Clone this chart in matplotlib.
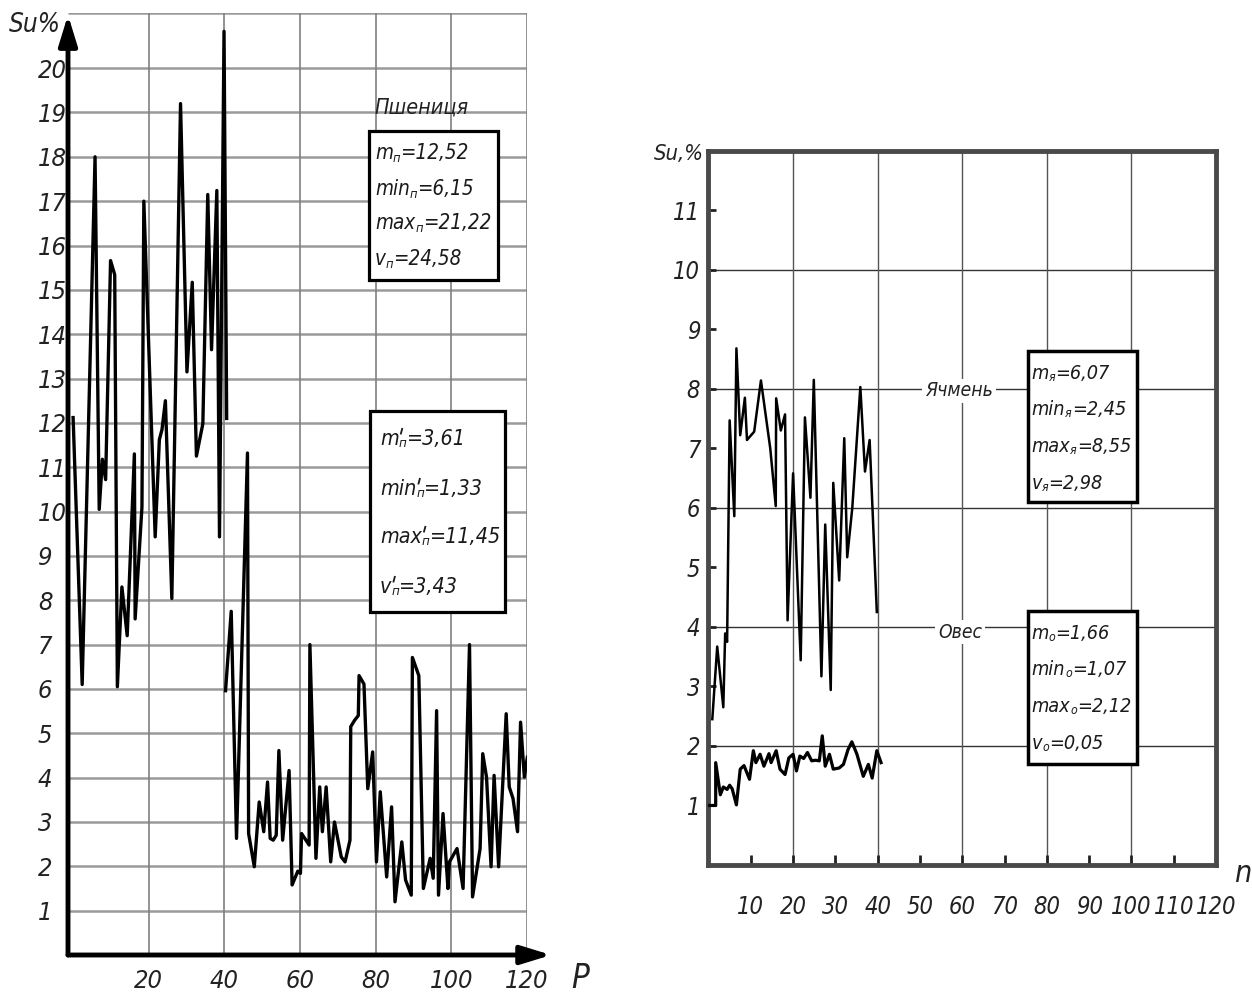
import os
import matplotlib
matplotlib.use('Agg')
import matplotlib.pyplot as plt
from matplotlib import font_manager as fm
from matplotlib.patches import Rectangle
from matplotlib.lines import Line2D
from matplotlib.textpath import TextPath

# ---- data ----
# wheat (left panel), drawn in two pieces: the line breaks near P=40
wheat1_x = [0.0, 2.4, 5.8, 6.9, 7.75, 8.6, 9.9, 11.0, 11.7, 12.9, 14.3, 16.2, 16.4,
            18.2, 18.7, 21.7, 22.8, 23.5, 24.4, 26.1, 28.4, 30.1, 31.5, 32.6, 34.3,
            35.6, 36.6, 38.0, 38.7, 39.9, 40.6]
wheat1_y = [12.12, 6.1, 18.0, 10.05, 11.18, 10.72, 15.66, 15.34, 6.05, 8.3, 7.2, 11.3, 7.58,
            10.1, 17.0, 9.43, 11.62, 11.85, 12.5, 8.04, 19.2, 13.15, 15.17, 11.25, 11.98,
            17.15, 13.65, 17.24, 9.43, 20.83, 12.1]
wheat2_x = [40.3, 41.8, 43.2, 46.1, 46.4, 47.9, 49.2, 50.4, 51.4, 52.1, 52.9, 53.7, 54.4,
            55.4, 57.1, 57.9, 59.4, 60.1, 60.4, 62.4, 62.6, 64.2, 65.2, 65.9, 66.9, 68.1,
            69.1, 70.9, 71.9, 73.2, 73.4, 74.4, 75.4, 75.6, 76.9, 77.9, 79.2, 80.2, 81.2,
            82.9, 84.2, 85.1, 86.9, 87.9, 89.4, 89.7, 91.4, 92.6, 94.4, 95.2, 96.1, 96.6,
            97.8, 99.1, 99.5, 101.5, 103.1, 104.8, 105.6, 107.6, 108.3, 109.3, 110.5,
            111.3, 112.5, 114.5, 115.3, 116.3, 117.5, 118.3, 119.3, 120.1]
wheat2_y = [5.96, 7.75, 2.63, 11.32, 2.74, 1.99, 3.45, 2.78, 3.9, 2.63, 2.59, 2.7, 4.61,
            2.59, 4.16, 1.58, 1.89, 1.84, 2.74, 2.48, 7.0, 2.18, 3.79, 2.78, 3.79, 2.1,
            3.0, 2.21, 2.1, 2.59, 5.15, 5.29, 5.4, 6.3, 6.11, 3.75, 4.58, 2.1, 3.68,
            1.76, 3.34, 1.2, 2.55, 1.69, 1.35, 6.71, 6.3, 1.5, 2.18, 1.73, 5.51, 1.35,
            3.19, 1.5, 2.1, 2.4, 1.5, 7.0, 1.31, 2.4, 4.54, 4.01, 1.99,
            4.05, 1.99, 5.44, 3.79, 3.53, 2.78, 5.25, 4.01, 4.46]

# barley (right panel)
barley_x = [0.9, 2.06, 3.5, 3.94, 4.4, 5.0, 6.1, 6.6, 7.5, 8.6, 9.1, 10.8, 12.4, 14.6,
            15.9, 16.0, 17.1, 18.1, 18.7, 20.0, 21.8, 22.8, 24.1, 24.9, 26.7, 27.6,
            28.9, 29.5, 30.9, 32.1, 32.8, 34.0, 35.9, 37.0, 38.1, 39.8]
barley_y = [2.45, 3.67, 2.65, 3.89, 3.75, 7.47, 5.86, 8.68, 7.22, 7.85, 7.14, 7.28, 8.14, 7.0,
            6.03, 7.84, 7.3, 7.57, 4.11, 6.58, 3.44, 7.52, 6.17, 8.15, 3.17, 5.72,
            2.94, 6.42, 4.78, 7.17, 5.17, 6.0, 8.03, 6.61, 7.14, 4.25]

# oats (right panel)
oats_x = [0.3, 1.7, 1.7, 2.8, 3.5, 4.4, 5.0, 5.6, 6.6, 7.5, 8.4, 9.7, 10.6, 11.2, 12.2,
          13.1, 14.3, 14.8, 16.0, 16.9, 18.1, 19.0, 20.0, 20.8, 21.6, 22.5, 23.4, 24.4,
          25.3, 26.2, 26.9, 27.6, 28.6, 29.5, 30.9, 31.9, 33.0, 33.9, 35.1, 36.6, 37.8,
          38.7, 39.8, 40.8]
oats_y = [1.0, 1.0, 1.72, 1.18, 1.31, 1.27, 1.34, 1.28, 1.01, 1.61, 1.67, 1.44, 1.92, 1.72,
          1.86, 1.66, 1.87, 1.72, 1.92, 1.61, 1.52, 1.8, 1.86, 1.58, 1.83, 1.79, 1.89, 1.75,
          1.76, 1.75, 2.17, 1.66, 1.86, 1.61, 1.63, 1.69, 1.94, 2.07, 1.86, 1.49, 1.69,
          1.46, 1.92, 1.72]

left_yticks = list(range(1, 21))
left_xticks = [20, 40, 60, 80, 100, 120]
right_yticks = list(range(1, 12))
right_xticks = list(range(10, 121, 10))

wheat_stats = [("m", "п", "=12,52"), ("min", "п", "=6,15"),
               ("max", "п", "=21,22"), ("v", "п", "=24,58")]
wheat_stats2 = [("m", "п", "=3,61"), ("min", "п", "=1,33"),
                ("max", "п", "=11,45"), ("v", "п", "=3,43")]
barley_stats = [("m", "я", "=6,07"), ("min", "я", "=2,45"),
                ("max", "я", "=8,55"), ("v", "я", "=2,98")]
oats_stats = [("m", "о", "=1,66"), ("min", "о", "=1,07"),
              ("max", "о", "=2,12"), ("v", "о", "=0,05")]

# ---- font: something narrow and italic, like the drafting font ----
files = {os.path.basename(f.fname): f.fname for f in fm.fontManager.ttflist}
FONT = None
for name in ['NotoSans-ExtraCondensedLightItalic.ttf', 'NotoSans-CondensedLightItalic.ttf',
             'LiberationSansNarrow-Italic.ttf', 'DejaVuSansCondensed-Oblique.ttf']:
    if name in files:
        FONT = files[name]
        break


def F(size):
    if FONT:
        return fm.FontProperties(fname=FONT, size=size)
    return fm.FontProperties(family='DejaVu Sans', style='italic', size=size)


W, H, DPI = 1252, 1000, 100
SUB = 0.62

fig = plt.figure(figsize=(W / DPI, H / DPI), dpi=DPI)
renderer = fig.canvas.get_renderer()
INK = '#222222'


def text_w(s, size):
    t = fig.text(0, 0, s, fontproperties=F(size))
    w = t.get_window_extent(renderer).width
    t.remove()
    return w


def fit(ws, w=None, hs='0', h=None):
    # point size giving the wanted width / ink height (px) in this font
    out = []
    if w:
        out.append(100 * w / text_w(ws, 100))
    if h:
        e = TextPath((0, 0), hs, size=100, prop=F(100)).get_extents()
        out.append(h / (e.height / 100) * 72 / DPI)
    return min(out)


def fit_line(parts, w, h):
    head, sub, tail = parts
    w100 = text_w(head, 100) + text_w(sub, 100 * SUB) + text_w(tail, 100)
    return min(100 * w / w100, fit("0", None, "2", h))


S_TICK_L = fit("20", 29, "20", 23)
S_SU = fit("Su%", 52, "S", 21)
S_P = fit("P", None, "P", 24)
S_WHEAT = fit("Пшениця", 94)
S_BOX_L = fit_line(wheat_stats[2], 116, 23)
S_BOX_L2 = fit_line(wheat_stats2[2], 121, 22)
S_TICK_R = fit("20", 27, "20", 21)
S_SU_R = fit("Su,%", 50, "S", 22)
S_N = fit("n", None, "n", 17)
S_BARLEY = fit("Ячмень", 68)
S_OATS = fit("Овес", 44)
S_BOX_R = min(fit_line(barley_stats[2], 101, 22), fit_line(oats_stats[2], 100, 22))


def P(x, y):
    return x / W, 1 - y / H


# ================= left panel =================
axL = fig.add_axes([68 / W, 1 - 955 / H, (527 - 68) / W, (955 - 12.7) / H])
x0L, topL = -1.35, 21.25
axL.set_xlim(x0L, 120)
axL.set_ylim(0, topL)
for s in axL.spines.values():
    s.set_visible(False)

axL.hlines(left_yticks + [topL], x0L, 120, color='#9a9a9a', lw=1.8, zorder=1)
axL.vlines(left_xticks, 0, topL, color='#808080', lw=1.2, zorder=1)

axL.plot(wheat1_x, wheat1_y, color='black', lw=2.4, zorder=3)
axL.plot(wheat2_x, wheat2_y, color='black', lw=2.4, zorder=3)

arrow = dict(arrowstyle='-|>,head_length=1.3,head_width=0.4', lw=3.5, color='black',
             shrinkA=0, shrinkB=0, mutation_scale=14)
axL.annotate('', xy=(126.4, 0), xytext=(x0L, 0), arrowprops=arrow, annotation_clip=False, zorder=4)
axL.annotate('', xy=(x0L, 21.2), xytext=(x0L, 0), arrowprops=arrow, annotation_clip=False, zorder=4)

axL.set_yticks(left_yticks)
axL.set_yticklabels([str(v) for v in left_yticks])
axL.set_xticks(left_xticks)
axL.set_xticklabels([str(v) for v in left_xticks])
axL.tick_params(axis='y', length=0, pad=21.6)
axL.tick_params(axis='x', length=0, pad=19)
for lab in axL.get_yticklabels():
    lab.set_fontproperties(F(S_TICK_L))
    lab.set_ha('left')
    lab.set_color(INK)
for lab in axL.get_xticklabels():
    lab.set_fontproperties(F(S_TICK_L))
    lab.set_va('center')
    lab.set_color(INK)

fig.text(*P(9, 25), "Su%", fontproperties=F(S_SU), va='center', ha='left', color=INK)
fig.text(*P(580, 978), "P", fontproperties=F(S_P), va='center', ha='center', color=INK)
fig.text(*P(422, 108), "Пшениця", fontproperties=F(S_WHEAT), va='center', ha='center', color=INK)

# ================= right panel =================
axR = fig.add_axes([708.5 / W, 1 - 865 / H, (1216 - 708.5) / W, (865 - 150.7) / H])
axR.set_xlim(0, 120)
axR.set_ylim(0, 12)
for s in axR.spines.values():
    s.set_color('#4a4a4a')
    s.set_linewidth(3.5)
axR.hlines([2, 4, 6, 8, 10], 0, 120, color='#333333', lw=1.0, zorder=1)
axR.vlines([20, 40, 60, 80, 100], 0, 12, color='#555555', lw=1.0, zorder=1)

axR.plot(barley_x, barley_y, color='black', lw=1.8, zorder=3)
axR.plot(oats_x, oats_y, color='black', lw=2.3, zorder=3)

axR.set_xticks(right_xticks)
axR.set_xticklabels([str(v) for v in right_xticks])
axR.set_yticks(right_yticks)
axR.set_yticklabels([str(v) for v in right_yticks])
axR.tick_params(axis='x', direction='in', length=7, width=2, color=INK, pad=30)
axR.tick_params(axis='y', direction='in', length=6, width=2, color=INK, pad=6)
for lab in axR.get_xticklabels():
    lab.set_fontproperties(F(S_TICK_R))
    lab.set_va('center')
    lab.set_color(INK)
for lab in axR.get_yticklabels():
    lab.set_fontproperties(F(S_TICK_R))
    lab.set_color(INK)

fig.text(*P(679, 154), "Su,%", fontproperties=F(S_SU_R), va='center', ha='center', color=INK)
fig.text(*P(1243, 873), "n", fontproperties=F(S_N), va='center', ha='center', color=INK)

lab_box = dict(boxstyle='square,pad=0.15', fc='white', ec='none')
fig.text(*P(959, 391), "Ячмень", fontproperties=F(S_BARLEY), va='center', ha='center',
         color=INK, bbox=lab_box, zorder=5)
fig.text(*P(960, 632), "Овес", fontproperties=F(S_OATS), va='center', ha='center',
         color=INK, bbox=lab_box, zorder=5)


# ================= statistic boxes =================
def frame(x0, y0, x1, y1, lw=2.3):
    fig.add_artist(Rectangle(P(x0, y1), (x1 - x0) / W, (y1 - y0) / H, transform=fig.transFigure,
                             fc='white', ec='black', lw=lw, zorder=4))


def stat_line(x, y_mid, parts, size, prime=False):
    head, sub, tail = parts
    em = size * DPI / 72
    base = y_mid + 0.36 * em
    kw = dict(va='baseline', ha='left', color='#1a1a1a', zorder=6)
    t = fig.text(*P(x, base), head, fontproperties=F(size), **kw)
    xs = x + t.get_window_extent(renderer).width
    s = fig.text(*P(xs, base + 0.12 * em), sub, fontproperties=F(size * SUB), **kw)
    ws = s.get_window_extent(renderer).width
    if prime:
        # the prime mark, drawn as a short slanted stroke
        fig.add_artist(Line2D([P(xs + 0.16 * em, 0)[0], P(xs + 0.10 * em, 0)[0]],
                              [P(0, base - 0.74 * em)[1], P(0, base - 0.52 * em)[1]],
                              transform=fig.transFigure, color='#1a1a1a', lw=1.3, zorder=6))
    fig.text(*P(xs + ws, base), tail, fontproperties=F(size), **kw)


frame(368.6, 130.7, 497.9, 280)
for parts, y in zip(wheat_stats, [152, 188, 222, 258]):
    stat_line(375, y, parts, S_BOX_L)

frame(369.7, 410.7, 505, 611.7)
for parts, y in zip(wheat_stats2, [437, 487, 535, 585]):
    stat_line(380, y, parts, S_BOX_L2, prime=True)

frame(1028.3, 350.7, 1136.8, 501.7, lw=2.5)
for parts, y in zip(barley_stats, [371.7, 408, 445, 481.7]):
    stat_line(1031.5, y, parts, S_BOX_R)

frame(1027.5, 610.7, 1136.8, 764, lw=2.5)
for parts, y in zip(oats_stats, [631.7, 668, 705, 741.7]):
    stat_line(1031.5, y, parts, S_BOX_R)

fig.savefig('out.png', dpi=DPI, facecolor='white')
